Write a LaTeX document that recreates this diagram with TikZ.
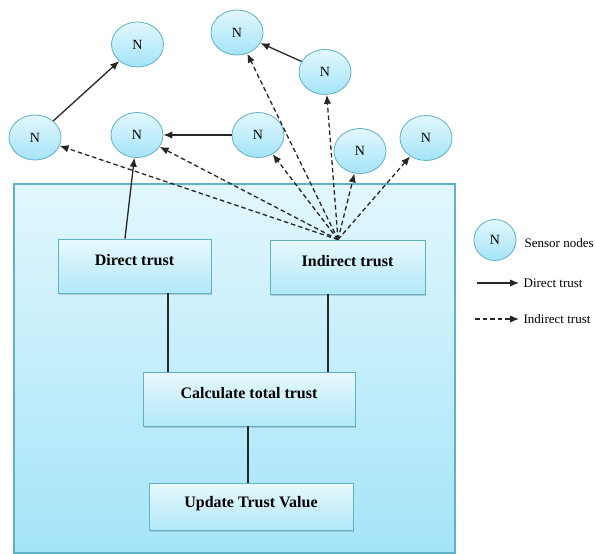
\documentclass[tikz,border=0pt]{standalone}
\usepackage{fontspec}
\setmainfont{Liberation Serif}
\usepackage{tikz}
\usetikzlibrary{shapes.geometric,shadows,positioning,arrows.meta}
\definecolor{rimblue}{RGB}{96,176,198}
\definecolor{paletop}{RGB}{226,247,253}
\definecolor{palebot}{RGB}{164,228,248}
\definecolor{inkgray}{RGB}{38,38,38}

\begin{document}
\begin{tikzpicture}[x=1pt, y=-1pt, -{Latex[length=9pt,width=7.5pt]}, line width=1.3pt, draw=inkgray,
		sensor/.style ={ ellipse, top color=paletop, bottom color=palebot,
			draw=rimblue, thick, text=black, minimum width=52pt, minimum height=45pt,
			inner sep=0pt, font=\fontsize{14}{14}\selectfont},
		trustbox/.style ={ rectangle, top color=paletop!80!white, bottom color=palebot!85!white,
			draw=rimblue, thick, text=black, minimum height=54pt, text height=11pt, text depth=13pt,
			drop shadow={shadow xshift=1.2pt, shadow yshift=-1.8pt, opacity=0.35},
			font=\bfseries\fontsize{16}{16}\selectfont},
		indirect/.style ={ dash pattern=on 4.5pt off 3pt},
		legendtext/.style ={ anchor=west, inner sep=0pt, font=\fontsize{13}{13}\selectfont}]
		\useasboundingbox (0,0) rectangle (595,554);
		% panel
		\node[rectangle, top color=paletop, bottom color=palebot, draw=rimblue, line width=1.3pt,
			minimum width=441pt, minimum height=369pt, inner sep=0pt,
			drop shadow={shadow xshift=1pt, shadow yshift=-1pt, opacity=0.2}] (P) at (234.5,368.5) {};
		% sensor nodes
		\node[sensor] (n1) at (137.5,44.5) {N};
		\node[sensor] (n2) at (35,137.5) {N};
		\node[sensor] (n3) at (137,135) {N};
		\node[sensor] (n4) at (258,135) {N};
		\node[sensor] (n5) at (237,32.5) {N};
		\node[sensor] (n6) at (325,72) {N};
		\node[sensor] (n7) at (360,151) {N};
		\node[sensor] (n8) at (426,138) {N};
		% trust boxes
		\node[trustbox, minimum width=153pt] (dt) at (134.5,266) {Direct trust};
		\node[trustbox, minimum width=155pt] (it) at (347.5,267) {Indirect trust};
		\node[trustbox, minimum width=212pt] (ct) at (249,399) {Calculate total trust};
		\node[trustbox, minimum width=204pt, minimum height=47pt, text depth=10pt] (ut) at (251,506.5) {Update Trust Value};
		\coordinate (h) at ([xshift=-9.5pt]it.north);
		% direct trust
		\path (n2) edge (n1); % 2 to 1
		\path (n4) edge (n3); % 4 to 3
		\path (n6) edge (n5); % 6 to 5
		\path ([xshift=-9.5pt]dt.north) edge (n3); % box to 3
		% indirect trust
		\path (h) edge[indirect] (n2);
		\path (h) edge[indirect] (n3);
		\path (h) edge[indirect] (n4);
		\path (h) edge[indirect] (n5);
		\path (h) edge[indirect] (n6);
		\path (h) edge[indirect] (n7);
		\path (h) edge[indirect] (n8);
		% flow
		\draw[-] ([xshift=33.5pt]dt.south) -- ([xshift=33.5pt]dt.south |- ct.north);
		\draw[-] ([xshift=-19.5pt]it.south) -- ([xshift=-19.5pt]it.south |- ct.north);
		\draw[-] ([xshift=-1pt]ct.south) -- ([xshift=-1pt]ct.south |- ut.north);
		% legend
		\node[sensor, minimum width=42pt, minimum height=41pt] (ln) at (495,240) {N};
		\node[legendtext] (ls) at (524,243) {Sensor nodes};
		\coordinate (d1) at (477,283);
		\coordinate (d2) at (519,283);
		\draw (d1) -- (d2);
		\node[legendtext, right=4pt of d2] (dl) {Direct trust};
		\coordinate (i1) at (475,319);
		\coordinate (i2) at (519,319);
		\draw[indirect] (i1) -- (i2);
		\node[legendtext, right=4pt of i2] (il) {Indirect trust};
\end{tikzpicture}
\end{document}
